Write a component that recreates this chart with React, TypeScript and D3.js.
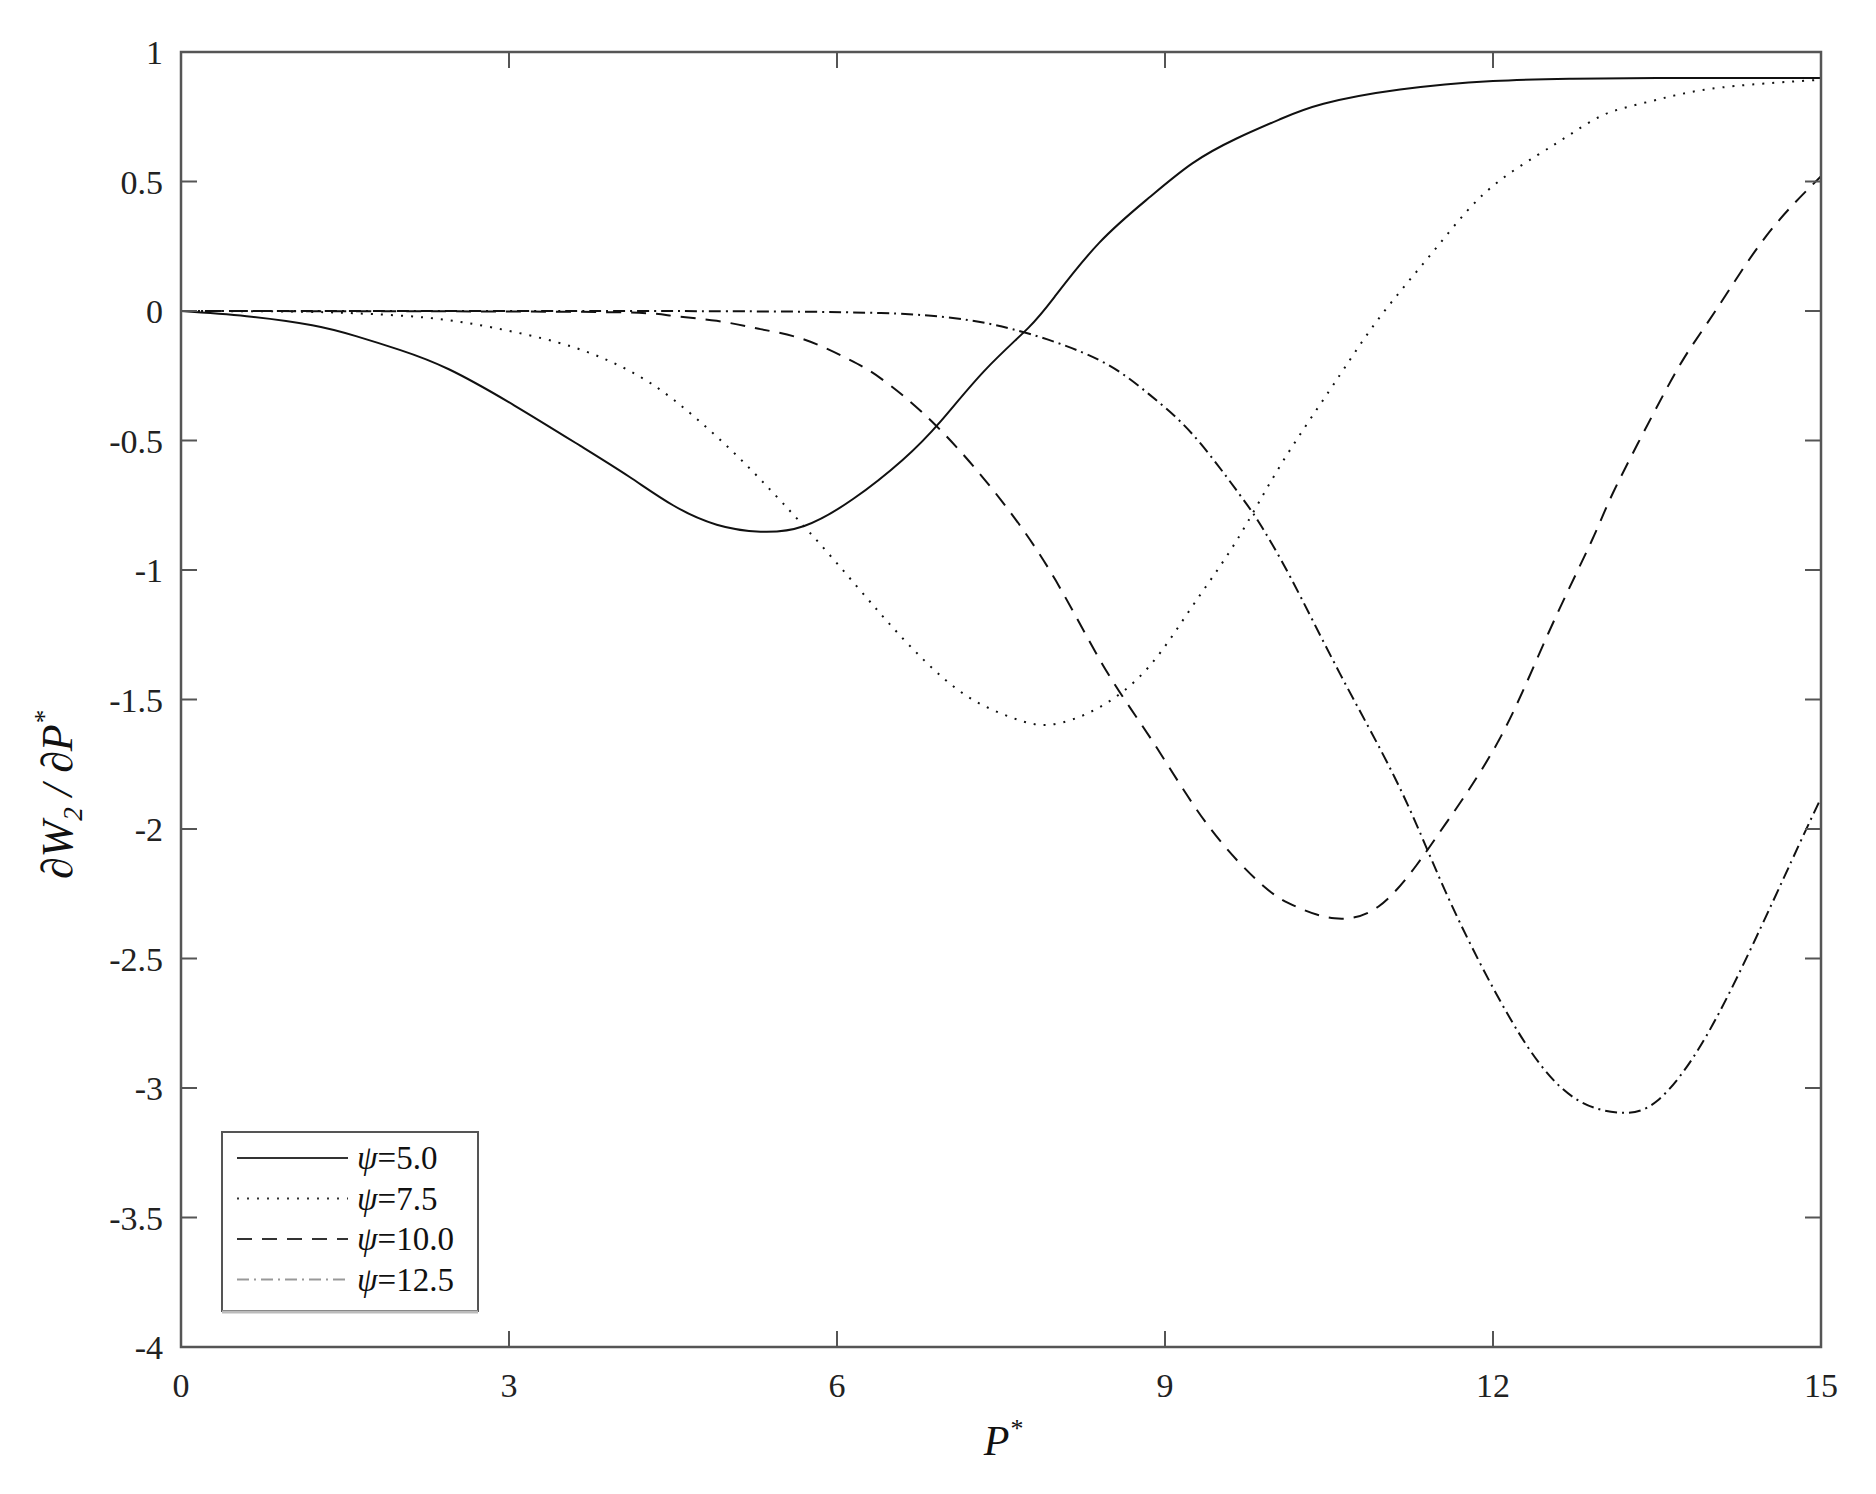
import React from "react";
import * as d3 from "d3";

const psiValues = ["5.0", "7.5", "10.0", "12.5"];

const x50 = [0, 0.6, 1.2, 1.6, 2.0, 2.45, 3.05, 3.65, 4.1, 4.5, 4.9, 5.3, 5.7, 6.15, 6.6, 6.95, 7.35, 7.75, 8.0, 8.4, 8.85, 9.25, 9.65, 10.05, 10.45, 11.15, 12.0, 12.7, 13.5, 15];
const y50 = [0, -0.02, -0.055, -0.097, -0.15, -0.225, -0.365, -0.52, -0.64, -0.75, -0.825, -0.852, -0.83, -0.725, -0.575, -0.425, -0.23, -0.065, 0.06, 0.264, 0.436, 0.57, 0.665, 0.74, 0.8, 0.855, 0.888, 0.897, 0.9, 0.9];

const x75 = [0, 1, 1.6, 2.25, 2.85, 3.45, 3.9, 4.3, 4.7, 5.1, 5.5, 5.95, 6.4, 6.8, 7.2, 7.6, 7.95, 8.4, 8.85, 9.25, 9.65, 10.05, 10.5, 10.85, 11.15, 11.45, 11.75, 12.05, 12.4, 12.7, 13.0, 13.3, 13.6, 13.9, 14.35, 15];
const y75 = [0, -0.002, -0.009, -0.026, -0.064, -0.122, -0.19, -0.28, -0.41, -0.565, -0.74, -0.95, -1.17, -1.35, -1.49, -1.57, -1.597, -1.53, -1.375, -1.14, -0.89, -0.6, -0.31, -0.09, 0.075, 0.228, 0.38, 0.5, 0.6, 0.68, 0.755, 0.795, 0.826, 0.852, 0.874, 0.893];

const x100 = [0, 2, 3, 4.1, 4.5, 4.9, 5.3, 5.7, 6.1, 6.4, 6.9, 7.5, 8.0, 8.45, 8.9, 9.4, 9.9, 10.2, 10.55, 10.95, 11.3, 11.55, 12.05, 12.5, 12.9, 13.1, 13.45, 13.75, 14.05, 14.5, 15];
const y100 = [0, -0.001, -0.002, -0.006, -0.019, -0.038, -0.07, -0.11, -0.185, -0.26, -0.44, -0.73, -1.04, -1.38, -1.67, -1.99, -2.22, -2.3, -2.345, -2.3, -2.14, -1.99, -1.66, -1.25, -0.89, -0.7, -0.41, -0.18, 0.01, 0.29, 0.52];

const x125 = [0, 2, 4, 5, 6.4, 7.2, 7.75, 8.4, 8.85, 9.25, 9.65, 9.85, 10.15, 10.6, 11.1, 11.45, 11.8, 12.3, 12.75, 13.15, 13.5, 13.95, 14.45, 14.8, 15];
const y125 = [0, 0, 0, -0.001, -0.008, -0.035, -0.087, -0.19, -0.32, -0.475, -0.69, -0.81, -1.03, -1.4, -1.8, -2.13, -2.45, -2.83, -3.04, -3.095, -3.05, -2.8, -2.38, -2.06, -1.88];

const xTicks = [0, 3, 6, 9, 12, 15];
const yTicks = [1, 0.5, 0, -0.5, -1, -1.5, -2, -2.5, -3, -3.5, -4];

const seriesX = [x50, x75, x100, x125];
const seriesY = [y50, y75, y100, y125];
const dashes = ["none", "2,8", "15,10", "12,5,2,5"];

export default function App() {
  const W = 1876, H = 1494;
  const L = 181, R = 1821, T = 52, B = 1347;
  const x = d3.scaleLinear().domain([0, 15]).range([L, R]);
  const y = d3.scaleLinear().domain([-4, 1]).range([B, T]);
  const line = d3.line<[number, number]>().x(d => x(d[0])).y(d => y(d[1])).curve(d3.curveNatural);
  const font = "'Liberation Serif', 'Times New Roman', serif";
  const tickLen = 16;
  const axisColor = "#555";

  return (
    <svg width={W} height={H} style={{ position: "absolute", left: 0, top: 0, background: "#fff" }}>
      <rect x={0} y={0} width={W} height={H} fill="#fff" />
      <defs>
        <clipPath id="plotclip">
          <rect x={L} y={T} width={R - L} height={B - T} />
        </clipPath>
      </defs>
      <g clipPath="url(#plotclip)">
        {seriesX.map((xs, i) => (
          <path key={i} d={line(xs.map((v, j) => [v, seriesY[i][j]]) as [number, number][]) || ""}
            fill="none" stroke="#111" strokeWidth={2} strokeDasharray={dashes[i]} />
        ))}
      </g>
      {xTicks.map(t => (
        <g key={"xt" + t}>
          <line x1={x(t)} x2={x(t)} y1={B} y2={B - tickLen} stroke={axisColor} strokeWidth={2} />
          <line x1={x(t)} x2={x(t)} y1={T} y2={T + tickLen} stroke={axisColor} strokeWidth={2} />
          <text x={x(t)} y={1397} fontFamily={font} fontSize={34} textAnchor="middle" fill="#222">{t}</text>
        </g>
      ))}
      {yTicks.map(t => (
        <g key={"yt" + t}>
          <line x1={L} x2={L + tickLen} y1={y(t)} y2={y(t)} stroke={axisColor} strokeWidth={2} />
          <line x1={R} x2={R - tickLen} y1={y(t)} y2={y(t)} stroke={axisColor} strokeWidth={2} />
          <text x={163} y={y(t) + 12} fontFamily={font} fontSize={34} textAnchor="end" fill="#222">{t}</text>
        </g>
      ))}
      <rect x={L} y={T} width={R - L} height={B - T} fill="none" stroke={axisColor} strokeWidth={2.5} />
      <text x={1003} y={1455} fontFamily={font} fontSize={42} fontStyle="italic" textAnchor="middle" fill="#111">
        P<tspan fontSize={26} dy={-18}>*</tspan>
      </text>
      <g transform="translate(72, 795) rotate(-90)">
        <text x={0} y={0} fontFamily={font} fontSize={44} fontStyle="italic" textAnchor="middle" fill="#111">
          ∂W<tspan fontSize={27} dy={10}>2</tspan><tspan dy={-10}> / ∂P</tspan><tspan fontSize={27} dy={-19}>*</tspan>
        </text>
      </g>
      <g>
        <rect x={222} y={1132} width={256} height={179} fill="#fff" stroke={axisColor} strokeWidth={2} />
        <line x1={222} x2={478} y1={1312} y2={1312} stroke="#bbb" strokeWidth={3} />
        {psiValues.map((v, i) => {
          const ry = 1158 + i * 40.5;
          return (
            <g key={v}>
              <line x1={237} x2={348} y1={ry} y2={ry} stroke={i === 3 ? "#999" : "#333"} strokeWidth={2} strokeDasharray={dashes[i]} />
              <text x={357} y={ry + 11} fontFamily={font} fontSize={33} fill="#111">
                <tspan fontStyle="italic">ψ</tspan>={v}
              </text>
            </g>
          );
        })}
      </g>
    </svg>
  );
}
